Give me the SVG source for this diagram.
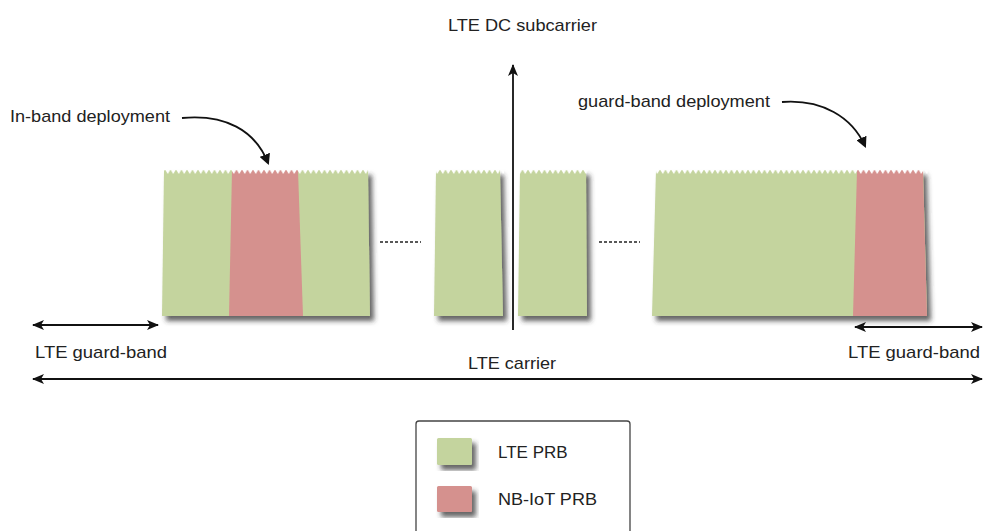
<svg xmlns="http://www.w3.org/2000/svg" width="984" height="531" viewBox="0 0 984 531">
<defs>
<style>
text{font-family:"Liberation Sans",Arial,sans-serif;font-size:17px;fill:#222}
.g{fill:#c4d49e}.r{fill:#d5918e}
.ln{stroke:#111;stroke-width:1.8;fill:none}
.dash{stroke:#222;stroke-width:1.5;stroke-dasharray:3 2}
</style>
<filter id="sh" x="-10%" y="-10%" width="130%" height="130%">
<feDropShadow dx="4" dy="5" stdDeviation="2.5" flood-color="#333" flood-opacity="0.75"/>
</filter>
<pattern id="teeth" x="0" y="170" width="5.5" height="6" patternUnits="userSpaceOnUse">
<polygon points="0.3,0 5.2,0 2.75,4" fill="#fff"/>
</pattern>
<marker id="ah" viewBox="0 0 12 12" refX="11" refY="6" markerWidth="12" markerHeight="12" markerUnits="userSpaceOnUse" orient="auto-start-reverse">
<path d="M0,1 L12,6 L0,11 L3,6 Z" fill="#111"/>
</marker>
<marker id="ahc" viewBox="0 0 10 10" refX="8" refY="5" markerWidth="11" markerHeight="11" markerUnits="userSpaceOnUse" orient="auto">
<path d="M0,0 L10,5 L0,10 Z" fill="#111"/>
</marker>
</defs>
<rect width="984" height="531" fill="#fff"/>

<g id="block1">
<g filter="url(#sh)">
<polygon class="g" points="164,170 368,170 370,316 162,316"/>
</g>
<polygon class="r" points="232,170 298,170 303,316 229,316"/>
<rect x="162" y="169" width="208" height="5" fill="url(#teeth)"/>
</g>

<g id="block2a">
<g filter="url(#sh)">
<polygon class="g" points="436,170 500,170 503,316 434,316"/>
</g>
<rect x="434" y="169" width="70" height="5" fill="url(#teeth)"/>
</g>

<g id="block2b">
<g filter="url(#sh)">
<polygon class="g" points="520,170 586,170 587,316 518,316"/>
</g>
<rect x="518" y="169" width="70" height="5" fill="url(#teeth)"/>
</g>

<g id="block3">
<g filter="url(#sh)">
<polygon class="g" points="656,170 923,170 927,316 652,316"/>
</g>
<polygon class="r" points="857,170 923,170 927,316 853,316"/>
<rect x="652" y="169" width="276" height="5" fill="url(#teeth)"/>
</g>

<g id="connectors">
<line class="ln" x1="513" y1="330" x2="513" y2="65" marker-end="url(#ah)"/>
<line class="dash" x1="380" y1="242" x2="421" y2="242"/>
<line class="dash" x1="599" y1="242" x2="640" y2="242"/>
<path class="ln" d="M182,118 C225,114 255,130 268,163" marker-end="url(#ahc)"/>
<path class="ln" d="M782,102 C822,99 852,117 865,146" marker-end="url(#ahc)"/>
<line class="ln" x1="33" y1="325" x2="158" y2="325" marker-start="url(#ah)" marker-end="url(#ah)"/>
<line class="ln" x1="855" y1="327" x2="982" y2="327" marker-start="url(#ah)" marker-end="url(#ah)"/>
<line class="ln" x1="33" y1="379" x2="982" y2="379" marker-start="url(#ah)" marker-end="url(#ah)"/>
</g>

<g id="labels">
<text x="448" y="31" textLength="149" lengthAdjust="spacingAndGlyphs">LTE DC subcarrier</text>
<text x="10" y="122" textLength="160" lengthAdjust="spacingAndGlyphs">In-band deployment</text>
<text x="578" y="107" textLength="192" lengthAdjust="spacingAndGlyphs">guard-band deployment</text>
<text x="35" y="358" textLength="132" lengthAdjust="spacingAndGlyphs">LTE guard-band</text>
<text x="848" y="358" textLength="132" lengthAdjust="spacingAndGlyphs">LTE guard-band</text>
<text x="468" y="369" textLength="88" lengthAdjust="spacingAndGlyphs">LTE carrier</text>
</g>

<g id="legend">
<rect x="416" y="421" width="214" height="125" rx="3" fill="#fff" stroke="#444" stroke-width="1.3"/>
<rect class="g" x="437" y="438" width="35" height="27" rx="1.5" filter="url(#sh)"/>
<rect class="r" x="437" y="486" width="35" height="26" rx="1.5" filter="url(#sh)"/>
<text x="498" y="458">LTE PRB</text>
<text x="498" y="505" textLength="99" lengthAdjust="spacingAndGlyphs">NB-IoT PRB</text>
</g>
</svg>
